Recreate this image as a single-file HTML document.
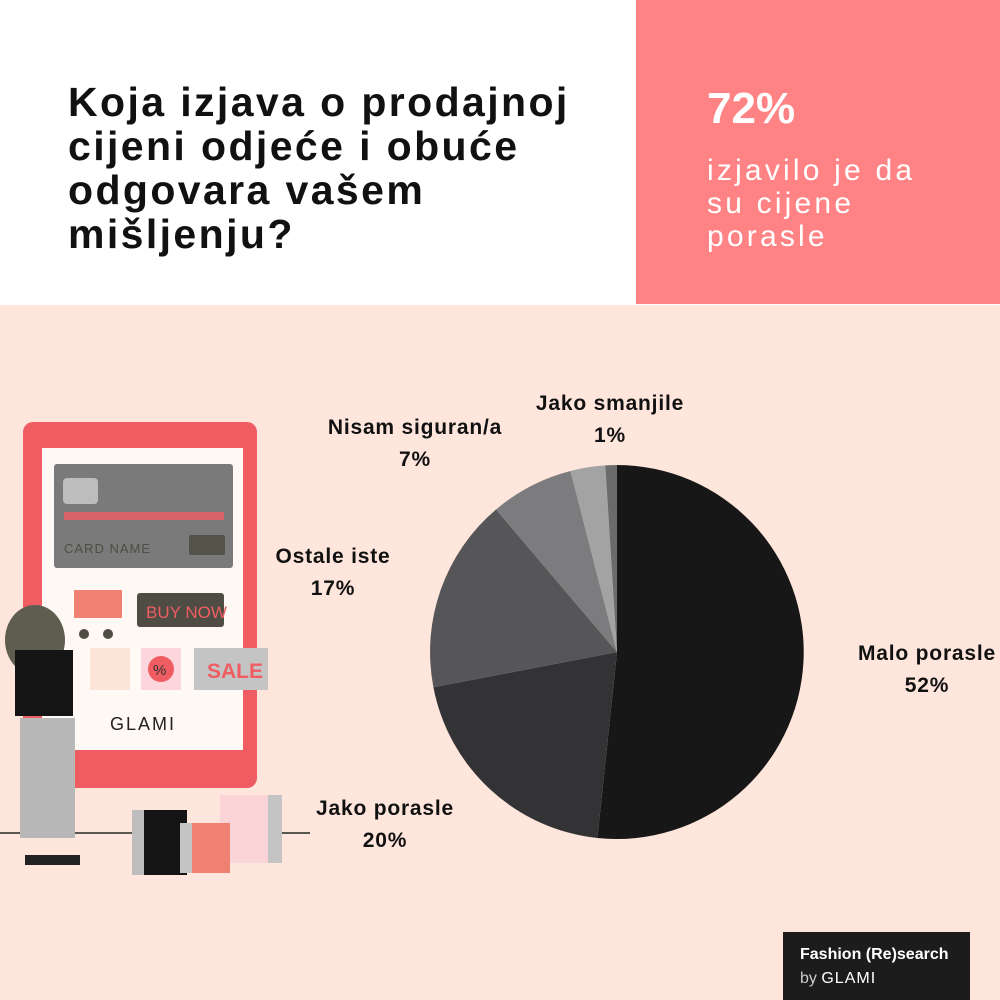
<!DOCTYPE html>
<html><head><meta charset="utf-8"><style>
body{margin:0;width:1000px;height:1000px;position:relative;background:#fee6dc;overflow:hidden;font-family:"Liberation Sans","DejaVu Sans",sans-serif}
.top{position:absolute;left:0;top:0;width:1000px;height:305px;background:#fff}
.pink{position:absolute;left:636px;top:0;width:364px;height:304px;background:#ff8385}
h1{position:absolute;left:68px;top:80px;margin:0;font-size:41px;line-height:44px;font-weight:bold;color:#111;letter-spacing:2.4px}
.big{position:absolute;left:707px;top:84px;font-size:44px;font-weight:bold;color:#fff}
.sub{position:absolute;left:707px;top:154px;font-size:30px;line-height:33px;color:#fff;letter-spacing:3.2px}
.lb{position:absolute;font-size:21px;font-weight:bold;color:#111;text-align:center;line-height:32px;letter-spacing:0.8px}
.badge{position:absolute;left:783px;top:932px;width:187px;height:68px;background:#1c1c1c;color:#fff}
</style></head><body>
<div class="top"></div><div class="pink"></div>
<h1>Koja izjava o prodajnoj<br>cijeni odjeće i obuće<br>odgovara vašem<br>mišljenju?</h1>
<div class="big">72%</div>
<div class="sub">izjavilo je da<br>su cijene<br>porasle</div>
<svg style="position:absolute;left:0;top:0" width="1000" height="1000">
<g transform="translate(617,652)">
<path d="M0,0 L0,-187 A187,187 0 1,1 -19.6,186 Z" fill="#171717"/>
<path d="M0,0 L-19.6,186 A187,187 0 0,1 -183.6,35.3 Z" fill="#333335"/>
<path d="M0,0 L-183.6,35.3 A187,187 0 0,1 -121,-142.5 Z" fill="#565558"/>
<path d="M0,0 L-121,-142.5 A187,187 0 0,1 -46.5,-181 Z" fill="#7c7b7d"/>
<path d="M0,0 L-46.5,-181 A187,187 0 0,1 -11.7,-186.6 Z" fill="#a3a3a3"/>
<path d="M0,0 L-11.7,-186.6 A187,187 0 0,1 0,-187 Z" fill="#6b6b6b"/>
</g>
<line x1="0" y1="833" x2="310" y2="833" stroke="#5a5750" stroke-width="2"/>
<rect x="23" y="422" width="234" height="366" rx="10" fill="#ef5d63"/>
<rect x="42" y="448" width="201" height="302" fill="#fff9f6"/>
<rect x="54" y="464" width="179" height="104" rx="3" fill="#7a7a7a"/>
<rect x="63" y="478" width="35" height="26" rx="4" fill="#bdbdbd"/>
<g fill="#ef5d63"><rect x="64" y="512" width="160" height="8" opacity=".8"/></g>
<text x="64" y="553" font-size="13" fill="#4f4c44" letter-spacing="1">CARD NAME</text>
<rect x="189" y="535" width="36" height="20" rx="2" fill="#55524a"/>
<rect x="74" y="590" width="48" height="28" fill="#f08070"/>
<circle cx="84" cy="634" r="5" fill="#4f4c44"/><circle cx="108" cy="634" r="5" fill="#4f4c44"/>
<rect x="137" y="593" width="87" height="34" rx="3" fill="#4f4c44"/>
<text x="146" y="618" font-size="17" fill="#ef5d63">BUY NOW</text>
<rect x="90" y="648" width="40" height="42" fill="#fbe4d8"/>
<rect x="141" y="648" width="40" height="42" fill="#fcd6dc"/><circle cx="161" cy="669" r="13" fill="#ef5d63"/>
<text x="153" y="675" font-size="15" fill="#333">%</text>
<rect x="194" y="648" width="74" height="42" fill="#c4c4c4"/>
<text x="207" y="678" font-size="21" fill="#ef5d63" font-weight="bold">SALE</text>
<text x="110" y="730" font-size="18" fill="#222" letter-spacing="2">GLAMI</text>
<ellipse cx="35" cy="640" rx="30" ry="35" fill="#5e5d50"/>
<rect x="15" y="650" width="58" height="66" fill="#141414"/>
<rect x="20" y="718" width="55" height="120" fill="#b8b8b8"/>
<rect x="25" y="855" width="55" height="10" fill="#222"/>
<rect x="132" y="810" width="55" height="65" fill="#141414"/><rect x="132" y="810" width="12" height="65" fill="#bdbdbd"/>
<rect x="220" y="795" width="62" height="68" fill="#fbd4d8"/><rect x="268" y="795" width="14" height="68" fill="#c4c4c4"/>
<rect x="180" y="823" width="50" height="50" fill="#f08070"/><rect x="180" y="823" width="12" height="50" fill="#c4c4c4"/>
</svg>
<div class="lb" style="left:510px;top:388px;width:200px">Jako smanjile<br>1%</div>
<div class="lb" style="left:305px;top:412px;width:220px">Nisam siguran/a<br>7%</div>
<div class="lb" style="left:248px;top:541px;width:170px">Ostale iste<br>17%</div>
<div class="lb" style="left:832px;top:638px;width:190px">Malo porasle<br>52%</div>
<div class="lb" style="left:290px;top:793px;width:190px">Jako porasle<br>20%</div>
<div class="badge"><div style="position:absolute;left:17px;top:14px;font-size:16px;font-weight:bold">Fashion (Re)search</div><div style="position:absolute;left:17px;top:38px;font-size:16px;color:#ccc">by <span style="color:#fff;letter-spacing:1px">GLAMI</span></div></div>
</body></html>
